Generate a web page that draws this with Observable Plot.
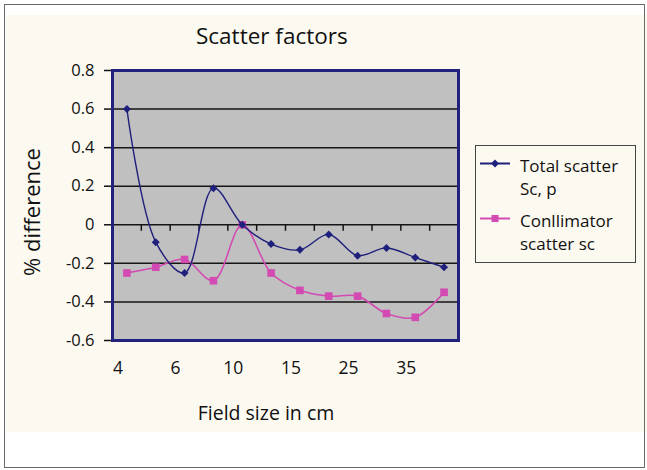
<!DOCTYPE html>
<html><head><meta charset="utf-8">
<script src="https://cdn.jsdelivr.net/npm/d3@7"></script>
<script src="https://cdn.jsdelivr.net/npm/@observablehq/plot@0.6"></script>
<style>
body{margin:0;background:#fff;}
#wrap{position:relative;width:647px;height:470px;overflow:hidden;font-family:"Open Sans",sans-serif;color:#111;}
#border{position:absolute;left:4px;top:4px;width:641px;height:464px;border:1.5px solid #6a6a6a;box-sizing:border-box;}
#cream{position:absolute;left:6px;top:15px;width:641px;height:417px;background:#fcf9f0;}
#chart{position:absolute;left:0;top:0;}
.t{position:absolute;white-space:nowrap;}
#title{left:196px;top:25px;font-size:22.5px;line-height:1;}
#ylab{left:31px;top:212px;font-size:22px;line-height:1;transform:translate(-50%,-50%) rotate(-90deg);}
#xlab{left:266px;top:401px;font-size:19.5px;line-height:24px;transform:translateX(-50%);}
#legend{position:absolute;left:475px;top:145px;width:161px;height:118px;border:1.5px solid #444;box-sizing:border-box;}
.ltxt{position:absolute;left:520px;font-size:17px;line-height:23px;white-space:nowrap;}
#lsw{position:absolute;left:0;top:0;}
</style></head>
<body>
<div id="wrap">
  <div id="cream"></div>
  <div id="border"></div>
  <div id="chart"></div>
  <div id="legend"></div>
  <div class="t" id="title">Scatter factors</div>
  <div class="t" id="ylab">% difference</div>
  <div class="t" id="xlab">Field size in cm</div>
</div>
<script>
const fieldSizes = [4, 5, 6, 8, 10, 12, 15, 20, 25, 30, 35, 40];
const tickLabels = [4, 6, 10, 15, 25, 35];
const totalScatter = [0.60, -0.09, -0.25, 0.19, 0.00, -0.10, -0.13, -0.05, -0.16, -0.12, -0.17, -0.22];
const collimatorScatter = [-0.25, -0.22, -0.18, -0.29, 0.00, -0.25, -0.34, -0.37, -0.37, -0.46, -0.48, -0.35];
const yTicks = [0.8, 0.6, 0.4, 0.2, 0, -0.2, -0.4, -0.6];
const seriesNames = [["Total scatter", "Sc, p"], ["Conllimator", "scatter sc"]];

const NAVY = "#1f1f7c";
const PINK = "#d24ab2";

const totalRows = fieldSizes.map((s, i) => ({i, size: s, v: totalScatter[i]}));
const collRows = fieldSizes.map((s, i) => ({i, size: s, v: collimatorScatter[i]}));
const boundaries = fieldSizes.slice(1).map((s, i) => i + 0.5);
const tickDown = {draw(ctx) { ctx.moveTo(0, 0); ctx.lineTo(0, 6); }};

const chart = Plot.plot({
  width: 647, height: 470,
  marginTop: 70, marginBottom: 130, marginLeft: 112, marginRight: 189,
  style: {background: "transparent", fontFamily: "Open Sans", color: "#111", overflow: "visible"},
  x: {domain: [-0.5, fieldSizes.length - 0.5]},
  y: {domain: [-0.6, 0.8]},
  marks: [
    Plot.frame({fill: "#c0c0c0"}),
    Plot.ruleY(yTicks, {stroke: "#151515", strokeWidth: 1.5}),
    Plot.dot(boundaries, {x: d => d, y: 0, symbol: tickDown, stroke: "#151515", fill: "none", strokeWidth: 1.5}),
    Plot.axisY(yTicks, {tickSize: 8, tickPadding: 10, fontSize: 16.5, strokeWidth: 1.5, color: "#111",
      tickFormat: d => d === 0 ? "0" : d.toFixed(1), label: null}),
    Plot.axisX(tickLabels.map(v => fieldSizes.indexOf(v)), {tickSize: 0, tickPadding: 21, fontSize: 17.5, dx: -9,
      color: "#111", tickFormat: i => String(fieldSizes[i]), label: null}),
    Plot.line(collRows, {x: "i", y: "v", stroke: PINK, strokeWidth: 1.6, curve: "catmull-rom"}),
    Plot.dot(collRows, {x: "i", y: "v", symbol: "square", r: 4.3, fill: PINK, stroke: null}),
    Plot.line(totalRows, {x: "i", y: "v", stroke: NAVY, strokeWidth: 1.4, curve: "catmull-rom"}),
    Plot.dot(totalRows, {x: "i", y: "v", symbol: "diamond2", r: 3.6, fill: NAVY, stroke: null}),
    Plot.frame({stroke: "#22227e", strokeWidth: 3})
  ]
});
document.getElementById("chart").appendChild(chart);

// legend
const wrap = document.getElementById("wrap");
const legendItems = [
  {lines: seriesNames[0], color: NAVY, symbol: d3.symbolDiamond2, size: 40, top: 153.5},
  {lines: seriesNames[1], color: PINK, symbol: d3.symbolSquare, size: 50, top: 208.5}
];
const sw = d3.create("svg").attr("id", "lsw").attr("width", 647).attr("height", 470)
  .style("position", "absolute").style("left", 0).style("top", 0).style("pointer-events", "none");
for (const it of legendItems) {
  const cy = it.top + 10;
  sw.append("line").attr("x1", 480).attr("x2", 510).attr("y1", cy).attr("y2", cy)
    .attr("stroke", it.color).attr("stroke-width", 2);
  sw.append("path").attr("d", d3.symbol(it.symbol, it.size)()).attr("transform", `translate(495,${cy})`)
    .attr("fill", it.color);
  it.lines.forEach((txt, k) => {
    const d = document.createElement("div");
    d.className = "ltxt";
    d.style.top = (it.top + k * 23) + "px";
    d.textContent = txt;
    wrap.appendChild(d);
  });
}
wrap.appendChild(sw.node());
</script>
</body></html>
